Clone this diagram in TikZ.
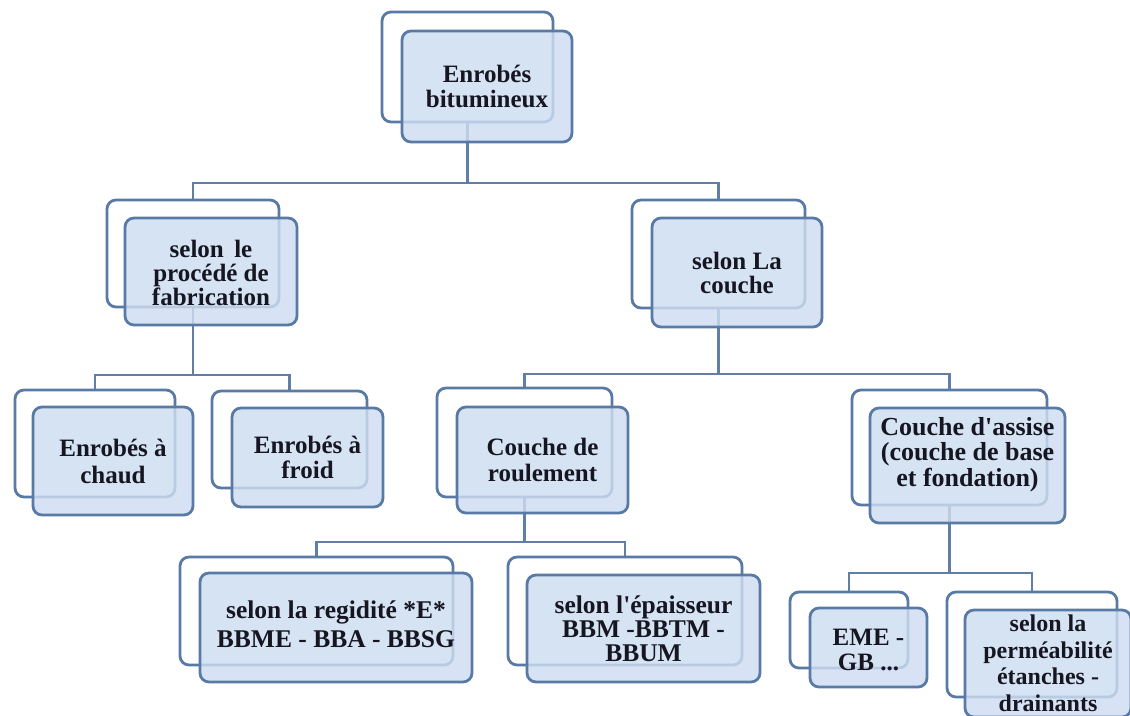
\documentclass[tikz,border=0pt]{standalone}
\usepackage{fontspec}
\setmainfont{Liberation Serif}[Ligatures=TeXOff]
\usetikzlibrary{fit}
\pgfdeclarelayer{background}
\pgfsetlayers{background,main}
\definecolor{edge}{RGB}{88,122,164}
\definecolor{wire}{RGB}{96,126,166}
\definecolor{boxfill}{RGB}{206,221,241}
\definecolor{ink}{RGB}{22,22,34}
\tikzset{
  backbox/.style={draw=edge, line width=2.8pt, rounded corners=9pt, fill=white, inner sep=0pt},
  frontbox/.style={draw=edge, line width=2.8pt, rounded corners=9pt, fill=boxfill, fill opacity=0.82, inner sep=0pt},
  txt/.style={inner sep=0pt, align=center, text=ink, anchor=center, font=\fontsize{25}{25}\selectfont\bfseries},
  conn/.style={draw=wire, line width=2.2pt}
}
\begin{document}
\begin{tikzpicture}[x=1pt,y=-1pt]
\useasboundingbox (0,0) rectangle (1130,715);
\clip (0,0) rectangle (1130,715);
% level 0
\node[backbox, fit={(382,12)(553,122)}] (rootb) {};
\node[frontbox, fit={(402,31)(572,142)}] (root) {};
\node[txt] (roott) at (root) {Enrobés\\bitumineux};
% level 1
\node[backbox, fit={(107,200)(279,307)}] (procb) {};
\node[frontbox, fit={(125,218)(297,325)}] (proc) {};
\node[txt, yshift=-1pt, font=\fontsize{25}{24}\selectfont\bfseries] (proct) at (proc) {selon\, le\\procédé de\\fabrication};
\node[backbox, fit={(632,200)(805,308)}] (coucheb) {};
\node[frontbox, fit={(652,218)(822,327)}] (couche) {};
\node[txt, font=\fontsize{25}{24}\selectfont\bfseries] (couchet) at (couche) {selon La\\couche};
% level 2
\node[backbox, fit={(15,390)(175,497)}] (chaudb) {};
\node[frontbox, fit={(33,407)(193,515)}] (chaud) {};
\node[txt, font=\fontsize{25}{27}\selectfont\bfseries] (chaudt) at (chaud) {Enrobés à\\chaud};
\node[backbox, fit={(212,391)(367,488)}] (froidb) {};
\node[frontbox, fit={(232,408)(383,507)}] (froid) {};
\node[txt] (froidt) at (froid) {Enrobés à\\froid};
\node[backbox, fit={(437,388)(612,497)}] (roulb) {};
\node[frontbox, fit={(457,407)(628,513)}] (roul) {};
\node[txt, font=\fontsize{25}{26}\selectfont\bfseries] (roult) at (roul) {Couche de\\roulement};
\node[backbox, fit={(852,390)(1047,505)}] (assiseb) {};
\node[frontbox, fit={(870,408)(1065,523)}] (assise) {};
\node[txt, yshift=11pt, font=\fontsize{26}{25.5}\selectfont\bfseries] (assiset) at (assise) {Couche d'assise\\(couche de base\\et fondation)};
% level 3
\node[backbox, fit={(180,557)(453,665)}] (regidb) {};
\node[frontbox, fit={(200,573)(472,682)}] (regid) {};
\node[txt, yshift=3pt, font=\fontsize{25.5}{29}\selectfont\bfseries] (regidt) at (regid) {selon la regidité *E*\\BBME - BBA - BBSG};
\node[backbox, fit={(508,557)(742,665)}] (epaisb) {};
\node[frontbox, fit={(527,575)(760,682)}] (epais) {};
\node[txt, font=\fontsize{25.5}{24}\selectfont\bfseries] (epaist) at (epais) {selon l'épaisseur\\BBM -BBTM -\\BBUM};
\node[backbox, fit={(790,592)(908,668)}] (emeb) {};
\node[frontbox, fit={(810,608)(927,687)}] (eme) {};
\node[txt, yshift=-2pt] (emet) at (eme) {EME -\\GB ...};
\node[backbox, fit={(947,592)(1117,697)}] (permb) {};
\node[frontbox, fit={(965,610)(1131,717)}] (perm) {};
\node[txt, font=\fontsize{24}{26.5}\selectfont\bfseries] (permt) at (perm) {selon la\\perméabilité\\étanches -\\drainants};
% junctions
\coordinate (j1) at (468,183);
\coordinate (j2) at (193,375);
\coordinate (j3) at (718,374);
\coordinate (j4) at (524,542);
\coordinate (j5) at (949,573);
\begin{pgfonlayer}{background}
\draw[conn] (rootb.south) -- (rootb.south |- j1);
\draw[conn] (procb.north) |- (j1) -| (coucheb.north);
\draw[conn] (procb.south) -- (procb.south |- j2);
\draw[conn] (chaudb.north) |- (j2) -| (froidb.north);
\draw[conn] (coucheb.south) -- (coucheb.south |- j3);
\draw[conn] (roulb.north) |- (j3) -| (assiseb.north);
\draw[conn] (roulb.south) -- (roulb.south |- j4);
\draw[conn] (regidb.north) |- (j4) -| (epaisb.north);
\draw[conn] (assiseb.south) -- (assiseb.south |- j5);
\draw[conn] (emeb.north) |- (j5) -| (permb.north);
\end{pgfonlayer}
\end{tikzpicture}
\end{document}
